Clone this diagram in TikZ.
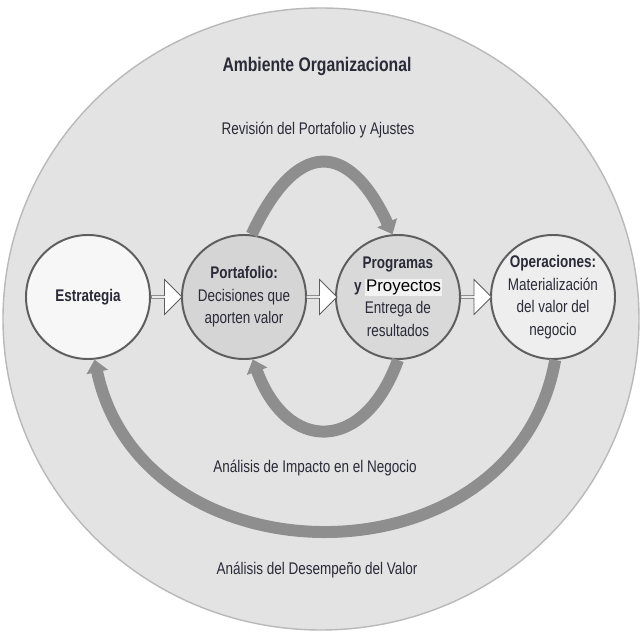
\documentclass[tikz,border=0pt]{standalone}
\usepackage{fontspec}
\setmainfont[FakeStretch=0.8]{Liberation Sans}
\newfontfamily\proyfont{Liberation Sans}
\usetikzlibrary{arrows.meta,shapes.arrows,calc}
\definecolor{ambiente}{HTML}{E3E3E3}
\definecolor{flecha}{HTML}{8E8E8E}
\definecolor{borde}{HTML}{5E5E5E}
\definecolor{texto}{HTML}{2A2A38}

\tikzset{
  etapa/.style={circle, draw=borde, line width=1.4pt, minimum size=31mm, inner sep=0pt,
    align=center, text=texto, font=\fontsize{12}{16}\selectfont},
  paso/.style={single arrow, draw=borde, fill=white, line width=0.6pt, minimum height=22pt,
    minimum width=25pt, single arrow head extend=4pt, single arrow head indent=0pt, inner sep=0pt},
  ciclo/.style={draw=flecha, line width=8.5pt, -{Triangle[width=15pt,length=9pt]}},
  rotulo/.style={text=texto, font=\fontsize{12}{14}\selectfont},
}

\begin{document}
\begin{tikzpicture}[x=0.25mm,y=0.25mm]
        \useasboundingbox (0,0) rectangle (643,643);
        %Ambiente
        \filldraw[fill=ambiente, draw=gray!55, line width=1pt] (321,324) ellipse [x radius=318, y radius=311];
        \node[rotulo, font=\fontsize{14}{16}\selectfont\bfseries] (titulo) at (317,577) {Ambiente Organizacional};
        %Etapas
        \node[etapa, fill=white!94!gray] (estrategia) at (88,346) {\textbf{Estrategia}};
        \node[etapa, fill=gray!33] (portafolio) at (244,346) {\textbf{Portafolio:}\\Decisiones que\\aporten valor};
        \node[etapa, fill=gray!30] (programas) at (398,346)
          {\textbf{Programas}\\\textbf{y} {\setlength\fboxsep{0.5pt}\colorbox{gray!10}{\proyfont\color{black} Proyectos}}\\Entrega de\\resultados};
        \node[etapa, fill=gray!13] (operaciones) at (553,346) {\textbf{Operaciones:}\\Materialización\\del valor del\\negocio};
        %Pasos
        \node[paso] (paso1) at ($(estrategia.east)!0.5!(portafolio.west)$) {};
        \node[paso] (paso2) at ($(portafolio.east)!0.5!(programas.west)$) {};
        \node[paso] (paso3) at ($(programas.east)!0.5!(operaciones.west)$) {};
        %Ciclos
        \draw[ciclo] (portafolio.83) .. controls +(65:105) and +(115:105) .. (programas.95);
        \draw[ciclo] (programas.-90) .. controls +(-110:100) and +(-70:100) .. (portafolio.-82);
        \draw[ciclo] (operaciones.-88) .. controls +(-100:232) and +(-78:232) .. (estrategia.-84);
        %Rotulos
        \node[rotulo] (revision) at (318,513) {Revisión del Portafolio y Ajustes};
        \node[rotulo] (impacto) at (315,175) {Análisis de Impacto en el Negocio};
        \node[rotulo] (desempeno) at (317,73) {Análisis del Desempeño del Valor};
      \end{tikzpicture}
\end{document}
